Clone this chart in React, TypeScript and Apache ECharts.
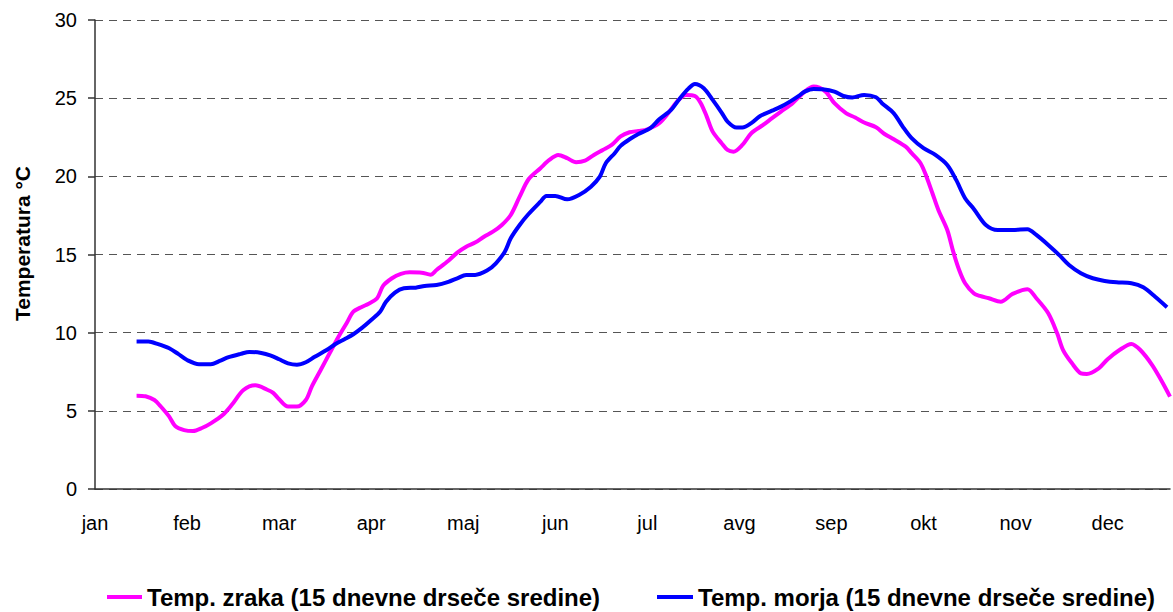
import React, { useEffect, useRef } from "react";
import * as echarts from "echarts";

const months = ["jan", "feb", "mar", "apr", "maj", "jun", "jul", "avg", "sep", "okt", "nov", "dec"];
const yTicks = [0, 5, 10, 15, 20, 25, 30];

const airName = "Temp. zraka (15 dnevne drseče sredine)";
const seaName = "Temp. morja (15 dnevne drseče sredine)";

const airDays = [14, 17, 20, 22, 25, 27, 30, 33, 36, 39, 43, 46, 50, 54, 58, 60, 62, 65, 68, 71, 73, 76, 79, 82, 85, 87, 90, 92, 95, 97, 100, 103, 106, 110, 113, 115, 119, 122, 125, 128, 131, 134, 137, 140, 143, 146, 150, 153, 156, 159, 162, 165, 168, 171, 174, 177, 180, 183, 186, 190, 193, 196, 199, 202, 204, 206, 208, 211, 213, 215, 218, 221, 225, 228, 231, 235, 239, 242, 246, 249, 253, 256, 259, 263, 266, 269, 273, 275, 278, 280, 282, 284, 287, 289, 291, 293, 296, 298, 301, 305, 309, 314, 317, 321, 324, 326, 329, 332, 334, 338, 341, 345, 349, 352, 356, 359, 362];
const airTemp = [5.97, 5.93, 5.69, 5.31, 4.63, 4.03, 3.77, 3.71, 3.9, 4.2, 4.73, 5.37, 6.33, 6.63, 6.35, 6.15, 5.74, 5.27, 5.27, 5.69, 6.55, 7.61, 8.68, 9.74, 10.7, 11.34, 11.66, 11.84, 12.2, 12.99, 13.48, 13.76, 13.86, 13.84, 13.71, 14.01, 14.6, 15.12, 15.5, 15.76, 16.14, 16.46, 16.89, 17.53, 18.7, 19.81, 20.52, 21.05, 21.37, 21.16, 20.9, 21.0, 21.37, 21.69, 22.01, 22.55, 22.82, 22.9, 23.01, 23.4, 24.03, 24.78, 25.21, 25.14, 24.68, 23.82, 22.86, 22.12, 21.69, 21.58, 22.01, 22.76, 23.29, 23.72, 24.14, 24.7, 25.42, 25.74, 25.42, 24.68, 24.03, 23.76, 23.44, 23.14, 22.69, 22.37, 21.9, 21.48, 20.84, 19.98, 18.92, 17.85, 16.57, 15.18, 14.01, 13.16, 12.5, 12.35, 12.2, 11.98, 12.48, 12.78, 12.2, 11.24, 9.96, 8.89, 8.04, 7.4, 7.36, 7.72, 8.3, 8.89, 9.28, 8.89, 7.93, 6.97, 5.91];

const seaDays = [14, 18, 21, 25, 28, 31, 35, 39, 42, 45, 49, 52, 56, 59, 62, 65, 68, 71, 74, 78, 81, 84, 87, 90, 93, 96, 98, 101, 104, 108, 111, 115, 119, 122, 125, 128, 132, 135, 138, 140, 143, 146, 150, 152, 155, 159, 163, 167, 170, 172, 175, 177, 180, 183, 187, 190, 194, 197, 200, 202, 205, 208, 211, 213, 216, 218, 221, 224, 228, 231, 234, 237, 239, 242, 245, 249, 252, 255, 259, 263, 265, 269, 272, 275, 279, 283, 287, 290, 293, 296, 300, 304, 309, 314, 317, 321, 325, 328, 332, 336, 340, 344, 349, 353, 357, 361];
const seaTemp = [9.43, 9.43, 9.28, 9.0, 8.64, 8.25, 7.98, 7.98, 8.19, 8.43, 8.64, 8.77, 8.7, 8.55, 8.3, 8.04, 7.95, 8.11, 8.46, 8.89, 9.28, 9.58, 9.9, 10.32, 10.81, 11.34, 11.98, 12.56, 12.84, 12.88, 12.99, 13.05, 13.25, 13.48, 13.69, 13.69, 13.97, 14.44, 15.18, 16.04, 16.89, 17.59, 18.38, 18.75, 18.75, 18.53, 18.81, 19.34, 19.98, 20.84, 21.48, 21.95, 22.37, 22.71, 23.08, 23.65, 24.25, 25.0, 25.64, 25.91, 25.64, 24.89, 24.08, 23.5, 23.12, 23.12, 23.4, 23.86, 24.2, 24.46, 24.78, 25.15, 25.42, 25.59, 25.57, 25.42, 25.14, 25.04, 25.21, 25.06, 24.68, 24.03, 23.18, 22.44, 21.8, 21.37, 20.73, 19.77, 18.6, 17.9, 16.89, 16.57, 16.57, 16.62, 16.25, 15.61, 14.91, 14.33, 13.8, 13.48, 13.31, 13.22, 13.16, 12.9, 12.3, 11.63];

const FONT = "'Liberation Sans', Arial, sans-serif";

export default function App() {
  const ref = useRef<HTMLDivElement>(null);
  useEffect(() => {
    if (!ref.current) return;
    const chart = echarts.init(ref.current, null, { renderer: "svg" });
    const airData = airDays.map((d, i) => [d, airTemp[i]]);
    const seaData = seaDays.map((d, i) => [d, seaTemp[i]]);
    const legendText = { fontFamily: FONT, fontSize: 24, fontWeight: "bold", color: "#000", lineHeight: 24 };
    chart.setOption({
      animation: false,
      backgroundColor: "#ffffff",
      textStyle: { fontFamily: FONT },
      grid: { left: 95, right: 0, top: 20, bottom: 123, containLabel: false },
      legend: [
        {
          left: 107,
          top: 585,
          padding: 0,
          itemWidth: 35,
          itemHeight: 4,
          icon: "rect",
          textStyle: legendText,
          data: [airName],
        },
        {
          left: 657,
          top: 585,
          padding: 0,
          itemWidth: 36,
          itemHeight: 4,
          icon: "rect",
          textStyle: legendText,
          data: [seaName],
        },
      ],
      xAxis: {
        type: "value",
        min: 0,
        max: 362,
        interval: 31,
        splitLine: { show: false },
        axisTick: { show: false },
        axisLine: { show: true, lineStyle: { color: "#333", width: 1.5 } },
        axisLabel: {
          fontFamily: FONT,
          fontSize: 20,
          color: "#000",
          margin: 24,
          showMaxLabel: true,
          formatter: (v: number) => (v % 31 === 0 ? months[v / 31] : ""),
        },
      },
      yAxis: {
        type: "value",
        min: yTicks[0],
        max: yTicks[yTicks.length - 1],
        interval: 5,
        name: "Temperatura °C",
        nameLocation: "middle",
        nameGap: 62,
        nameTextStyle: {
          fontFamily: FONT,
          fontSize: 21,
          fontWeight: "bold",
          color: "#000",
          padding: [0, 0, 0, 22],
        },
        axisLine: { show: true, lineStyle: { color: "#333", width: 1.5 } },
        axisTick: { show: true, length: 7, inside: false, lineStyle: { color: "#333", width: 1.5 } },
        axisLabel: { fontFamily: FONT, fontSize: 20, color: "#000", margin: 18 },
        splitLine: { show: true, lineStyle: { color: "#555", width: 1.2, type: [8, 6] } },
      },
      series: [
        {
          name: airName,
          type: "line",
          data: airData,
          showSymbol: false,
          symbol: "none",
          smooth: 0.3,
          lineStyle: { color: "#ff00ff", width: 4 },
          itemStyle: { color: "#ff00ff" },
        },
        {
          name: seaName,
          type: "line",
          data: seaData,
          showSymbol: false,
          symbol: "none",
          smooth: 0.3,
          lineStyle: { color: "#0000ff", width: 4 },
          itemStyle: { color: "#0000ff" },
        },
      ],
    });
    return () => chart.dispose();
  }, []);
  return (
    <div
      ref={ref}
      style={{ position: "fixed", left: 0, top: 0, width: 1173, height: 612, background: "#fff" }}
    />
  );
}
